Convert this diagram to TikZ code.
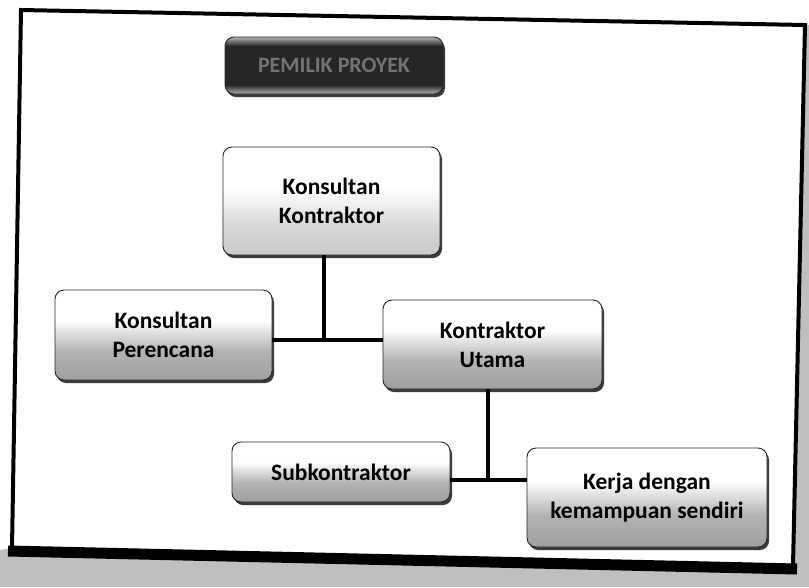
\documentclass[tikz,border=0pt]{standalone}
\usepackage{fontspec}
\setmainfont{Carlito}
\usetikzlibrary{shadows}
\pgfdeclareverticalshading{orgshade}{100bp}{color(0bp)=(gray!75); color(25bp)=(gray!75); color(41bp)=(gray!60); color(52bp)=(gray!22); color(58bp)=(white); color(100bp)=(white)}
\pgfdeclareverticalshading{lightshade}{100bp}{color(0bp)=(gray!42); color(25bp)=(gray!42); color(38bp)=(gray!32); color(50bp)=(gray!10); color(56bp)=(white); color(100bp)=(white)}
\pgfdeclareverticalshading{titleshade}{100bp}{color(0bp)=(gray!60); color(25bp)=(gray!60); color(33bp)=(black!85); color(67bp)=(black!85); color(75bp)=(gray!60); color(100bp)=(gray!60)}
\tikzset{
  orgbox/.style={rounded corners=9pt, draw=black!85, line width=0.9pt, shade, shading=orgshade,
    drop shadow={shadow xshift=2pt, shadow yshift=-3pt, fill=black!85, opacity=0.9},
    align=center, inner sep=2pt, font=\fontsize{23.5}{29}\selectfont\bfseries},
  lightbox/.style={orgbox, shading=lightshade},
  titlebox/.style={orgbox, shading=titleshade, text=black!55, font=\fontsize{22}{26}\selectfont\bfseries},
  conn/.style={line width=3.5pt, draw=black},
  frameline/.style={line width=4pt, draw=black, line join=miter},
  shadowarea/.style={fill=gray!50}
}
\begin{document}
\begin{tikzpicture}[x=1pt,y=-1pt]
\useasboundingbox (0,0) rectangle (809,587);
% frame shadow and frame
\fill[shadowarea] (0,550) -- (12,548) -- (793,566) -- (805,25) -- (809,25) -- (809,587) -- (0,587) -- cycle;
\fill[white] (21,10) -- (805,25) -- (793,566) -- (12,548) -- cycle;
\draw[frameline] (12,548) -- (21,10) -- (805,25) -- (793,566);
\draw[line width=11pt] (8,551) -- (797,569);
% nodes
\node[titlebox, minimum width=218pt, minimum height=57pt] (title) at (334,65.5) {PEMILIK PROYEK};
\node[lightbox, minimum width=217pt, minimum height=108pt] (kk) at (331.5,201) {Konsultan\\Kontraktor};
\node[orgbox, minimum width=217pt, minimum height=90pt] (kp) at (163.5,335) {Konsultan\\Perencana};
\node[orgbox, minimum width=219pt, minimum height=89pt] (ku) at (492.5,344.5) {Kontraktor\\Utama};
\node[orgbox, minimum width=218pt, minimum height=60pt] (sub) at (341,472) {Subkontraktor};
\node[orgbox, minimum width=240pt, minimum height=99pt] (kerja) at (647,497.5) {Kerja dengan\\kemampuan sendiri};
% junctions
\coordinate (j1) at (324,340);
\coordinate (j2) at (488,480);
% connectors
\draw[conn] (kk.south -| j1) -- (j1);
\draw[conn] (kp.east |- j1) -- (ku.west |- j1);
\draw[conn] (ku.south -| j2) -- (j2);
\draw[conn] (sub.east |- j2) -- (kerja.west |- j2);
\end{tikzpicture}
\end{document}
